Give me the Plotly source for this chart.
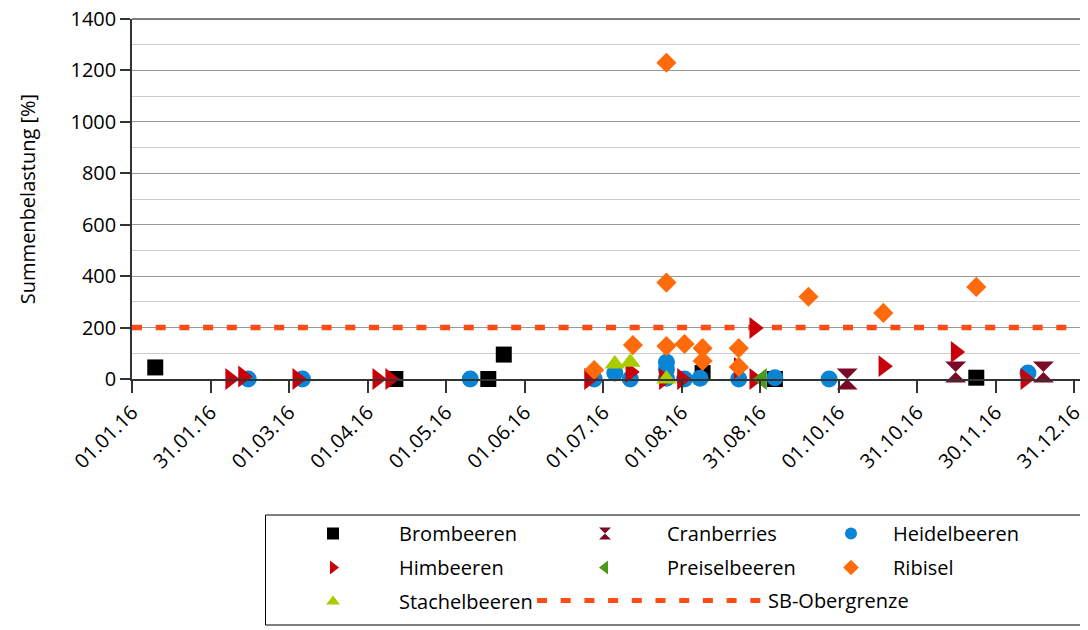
import datetime as dt
import plotly.graph_objects as go

# ---- data ----
brom_x = ["2016-01-10", "2016-04-12", "2016-05-18", "2016-05-24", "2016-08-09", "2016-09-06", "2016-11-23"]
brom_y = [45, 0, 0, 95, 23, 0, 5]

cran_x = ["2016-10-04", "2016-11-15", "2016-12-19"]
cran_y = [0, 27, 27]

heid_x = ["2016-02-15", "2016-03-07", "2016-05-11", "2016-06-28", "2016-07-06", "2016-07-12",
          "2016-07-26", "2016-07-26", "2016-07-26", "2016-08-02", "2016-08-08", "2016-08-23",
          "2016-09-06", "2016-09-27", "2016-12-13"]
heid_y = [0, 0, 0, 0, 23, 0, 65, 38, 3, 0, 3, 0, 5, 0, 23]

himb_x = ["2016-02-08", "2016-02-13", "2016-03-05", "2016-04-05", "2016-04-10", "2016-06-26",
          "2016-07-12", "2016-07-25", "2016-08-01", "2016-08-23", "2016-08-29", "2016-08-29",
          "2016-10-18", "2016-11-15", "2016-12-12"]
himb_y = [0, 10, 0, 0, 0, 0, 27, 0, 0, 43, 0, 198, 50, 105, 0]

prei_x = ["2016-09-01"]
prei_y = [0]

ribi_x = ["2016-06-28", "2016-07-13", "2016-07-26", "2016-07-26", "2016-07-26", "2016-08-02",
          "2016-08-09", "2016-08-09", "2016-08-23", "2016-08-23", "2016-09-19", "2016-10-18",
          "2016-11-23"]
ribi_y = [35, 132, 1230, 375, 128, 136, 120, 70, 120, 47, 320, 257, 358]

stach_x = ["2016-07-06", "2016-07-12", "2016-07-26"]
stach_y = [58, 65, 0]

limit_value = 200
x_start = "2016-01-01"
x_end = "2017-01-03 08:00"

y_tick_vals = [0, 200, 400, 600, 800, 1000, 1200, 1400]

tick_labels = ["01.01.16", "31.01.16", "01.03.16", "01.04.16", "01.05.16", "01.06.16",
               "01.07.16", "01.08.16", "31.08.16", "01.10.16", "31.10.16", "30.11.16", "31.12.16"]
t0 = dt.datetime(2016, 1, 1)
tick_vals = [t0 + dt.timedelta(days=k * 365 / 12) for k in range(len(tick_labels))]

FONT = "Open Sans"
FS = 20
fig = go.Figure()

# limit line (drawn first so markers lie on top)
fig.add_trace(go.Scatter(
    x=[x_start, x_end], y=[limit_value, limit_value], mode="lines", name="SB-Obergrenze",
    line=dict(color="#FF4B14", width=5.5, dash="10px,13.7px"), legend="legend4",
    legendgroup="sb", hoverinfo="skip"))

series = [
    # name, x, y, symbol, colour, size, legend
    ("Brombeeren", brom_x, brom_y, "square", "#000000", 16, "legend"),
    ("Cranberries", cran_x, cran_y, "hourglass", "#7A0A28", 21, "legend2"),
    ("Heidelbeeren", heid_x, heid_y, "circle", "#0A84D4", 17, "legend3"),
    ("Himbeeren", himb_x, himb_y, "triangle-right", "#C8000A", 19, "legend"),
    ("Preiselbeeren", prei_x, prei_y, "triangle-left", "#4C9A1C", 19, "legend2"),
    ("Ribisel", ribi_x, ribi_y, "diamond", "#FF6A0A", 15.5, "legend3"),
    ("Stachelbeeren", stach_x, stach_y, "triangle-up", "#A8CC00", 18, "legend"),
]
for i, (name, xs, ys, sym, col, sz, lg) in enumerate(series):
    fig.add_trace(go.Scatter(
        x=xs, y=ys, mode="markers", name=name, legend=lg, legendgroup=name,
        legendrank=1000 + i,
        marker=dict(symbol=sym, color=col, size=sz, line=dict(width=0)), cliponaxis=False))

# page body adds 8px offset; figure sized/positioned to compensate
OFF = 8
W_PLOT = 951.0
H_PLOT = 360.0
def px_x(p):
    return (p - 132) / W_PLOT
def px_y(p):
    return (379 - p) / H_PLOT

leg_common = dict(orientation="v", yanchor="top", xanchor="left", bgcolor="rgba(0,0,0,0)",
                  borderwidth=0, font=dict(family=FONT, size=FS, color="#000000"),
                  tracegroupgap=5, itemsizing="constant", traceorder="grouped")

fig.update_layout(
    width=1088 - OFF, height=630 - OFF,
    margin=dict(l=132 - OFF, r=5, t=19 - OFF, b=251, autoexpand=False),
    paper_bgcolor="white", plot_bgcolor="white",
    font=dict(family=FONT, size=FS, color="#000000"),
    showlegend=True,
    legend=dict(x=px_x(267), y=px_y(514), itemwidth=122, **leg_common),
    legend2=dict(x=px_x(543), y=px_y(514), itemwidth=114, **leg_common),
    legend3=dict(x=px_x(809), y=px_y(514), itemwidth=74, **leg_common),
    legend4=dict(x=px_x(532), y=px_y(581), itemwidth=226, **leg_common),
)

fig.update_xaxes(
    type="date", range=[x_start, x_end], automargin=False, ticklabeloverflow="allow",
    tickmode="array", tickvals=tick_vals, ticktext=tick_labels, tickangle=-45,
    ticks="outside", ticklen=12, tickcolor="#333333", tickwidth=1.5,
    showline=True, linecolor="#333333", linewidth=1.5, showgrid=False, zeroline=False,
    tickfont=dict(family=FONT, size=FS),
)
fig.update_yaxes(
    range=[0, 1400.01], tickmode="array", tickvals=y_tick_vals, automargin=False,
    ticklabeloverflow="allow",
    ticks="outside", ticklen=10, tickcolor="#333333", tickwidth=1.5,
    showline=True, linecolor="#333333", linewidth=1.5,
    showgrid=True, gridcolor="#999999", gridwidth=1,
    minor=dict(dtick=100, tick0=0, showgrid=True, gridcolor="#cccccc", gridwidth=1),
    zeroline=False,
    title=dict(text="Summenbelastung [%]", font=dict(family=FONT, size=FS), standoff=30),
    tickfont=dict(family=FONT, size=FS),
)

# right border and top line of plot area
fig.add_shape(type="line", xref="paper", yref="paper", x0=1, x1=1, y0=0, y1=1,
              line=dict(color="#aaaaaa", width=2))
fig.add_shape(type="line", xref="paper", yref="paper", x0=0, x1=1, y0=1, y1=1,
              line=dict(color="#555555", width=1.5))
# legend frame
fig.add_shape(type="rect", xref="paper", yref="paper",
              x0=px_x(265.5), x1=px_x(1085), y0=px_y(625), y1=px_y(515),
              line=dict(color="#000000", width=1), fillcolor="rgba(0,0,0,0)")

fig.write_html("out.html")
